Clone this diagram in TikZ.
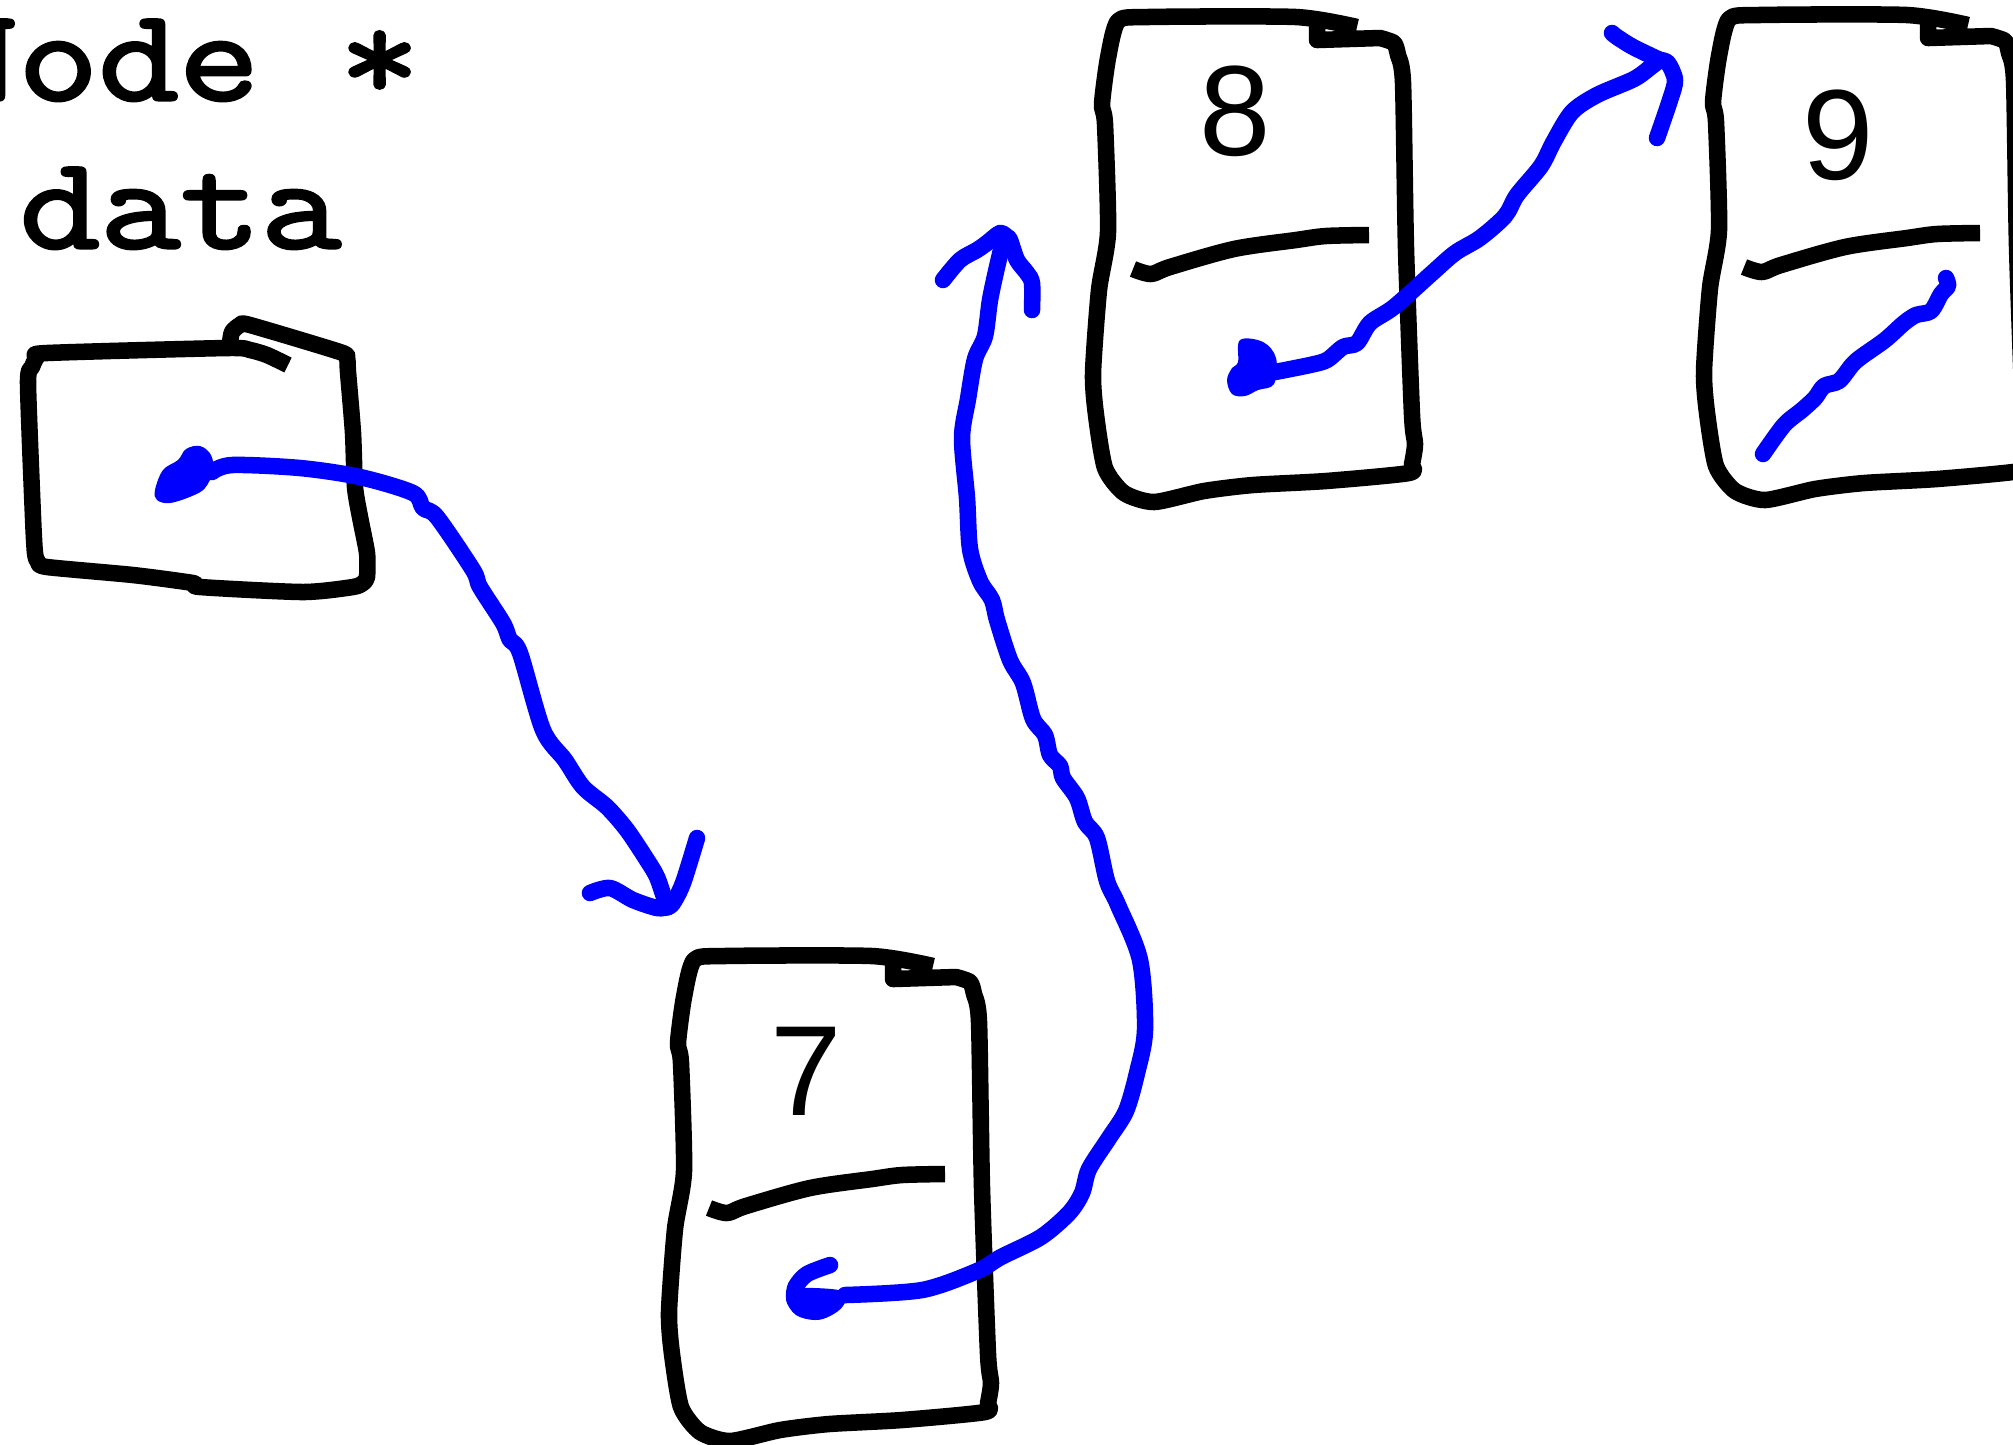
\documentclass[tikz,border=0pt]{standalone}
\usepackage{fontspec}
\newfontfamily\codefont{Latin Modern Mono}[FakeBold=2.5, FakeStretch=1.19]
\newfontfamily\digitfont{Liberation Sans}

\begin{document}
\begin{tikzpicture}[x=0.01cm, y=-0.01cm, line join=round,
  outline/.style={line width=4.7pt, black},
  ptr/.style={line width=4.7pt, blue, line cap=round},
  digit/.style={inner sep=0pt, font=\digitfont\fontsize{36.5}{44}\selectfont},
  code/.style={inner sep=0pt, anchor=base west, font=\codefont\fontsize{37.3}{45}\selectfont}]
  \useasboundingbox (0,0) rectangle (2013,1444);

  % declaration
  \node[code] (decl) at (-63,100) {Node *};
  \node[code] (field) at (19,248) {data};

  % head box
  \draw[outline] plot[smooth, tension=0.4] coordinates {(230,343) (232,332) (240,325) (250,325) (340,352) (347,358) (348,372) (353,433) (355,487) (360,517) (367,553) (367,577) (363,583) (353,587) (303,592) (200,587) (193,583) (133,575) (47,567) (38,562) (35,553) (33,517) (28,383) (32,367) (37,357) (47,353) (227,348) (250,350) (267,355) (288,365)};

  % list nodes
  \foreach \bx/\by/\num/\nx/\ny in {694/960/7/112/111, 1118/21/8/117/90, 1729/19/9/109/116} {
    \begin{scope}[shift={(\bx,\by)}]
      \draw[outline] (199,4) -- (199,19) -- plot[smooth, tension=0.4] coordinates {(262,17) (276,22) (280,34) (285,62) (288,228) (294,394) (297,423) (294,443) (291,452) (208,460) (135,464) (86,470) (36,481) (6,472) (-13,447) (-22,394) (-25,352) (-19,269) (-10,211) (-13,103) (-16,83) (-10,37) (0,0) (30,-4) (178,-4) (239,6)};
      \draw[outline] plot[smooth, tension=0.5] coordinates {(15,248) (33,253) (52,246) (116,228) (178,219) (208,215) (251,214)};
      \node[digit] (n\num) at (\nx,\ny) {\num};
    \end{scope}
  }

  % head -> 7
  \coordinate (head) at (212,472);
  \coordinate (tip7) at (668,907);
  \fill[blue] plot[smooth cycle, tension=0.6] coordinates {(155,490) (163,470) (178,460) (186,449) (200,446) (211,455) (213,471) (205,488) (192,496) (170,503) (157,500)};
  \draw[ptr] plot[smooth, tension=0.5] coordinates {(head) (232,465) (300,468) (360,477) (413,493) (423,508) (437,517) (473,570) (480,587) (503,623) (510,640) (520,653) (543,730) (565,760) (583,787) (607,807) (627,830) (647,860) (657,877) (665,900) (tip7)};
  \draw[ptr] plot[smooth] coordinates {(tip7) (657,908) (633,900) (610,888) (590,893)};
  \draw[ptr] plot[smooth] coordinates {(tip7) (673,903) (683,883) (697,838)};

  % 7 -> 8
  \coordinate (from7) at (845,1295);
  \coordinate (tip8) at (1007,237);
  \fill[blue] plot[smooth cycle, tension=0.6] coordinates {(786,1300) (792,1290) (815,1288) (845,1292) (843,1306) (830,1316) (815,1320) (796,1315)};
  \draw[ptr] plot[smooth] coordinates {(830,1265) (807,1274) (796,1286) (794,1296)};
  \draw[ptr] plot[smooth, tension=0.5] coordinates {(from7) (922,1290) (977,1271) (1001,1257) (1041,1237) (1069,1213) (1082,1193) (1089,1169) (1109,1138) (1126,1111) (1137,1073) (1145,1030) (1140,960) (1118,905) (1107,881) (1097,838) (1085,822) (1077,798) (1063,778) (1060,766) (1050,755) (1045,735) (1033,719) (1023,683) (1010,660) (997,620) (992,600) (980,581) (970,549) (967,498) (962,438) (968,399) (975,359) (985,336) (990,300) (997,267) (1003,243) (tip8)};
  \draw[ptr] plot[smooth] coordinates {(tip8) (1000,233) (987,243) (977,250) (960,260) (943,280)};
  \draw[ptr] plot[smooth] coordinates {(tip8) (1010,240) (1017,260) (1027,273) (1032,283) (1032,310)};

  % 8 -> 9
  \coordinate (from8) at (1275,372);
  \coordinate (tip9) at (1660,60);
  \fill[blue] plot[smooth cycle, tension=0.6] coordinates {(1240,340) (1263,342) (1276,358) (1274,384) (1258,390) (1245,396) (1232,394) (1227,380) (1232,368) (1238,362)};
  \draw[ptr] plot[smooth, tension=0.5] coordinates {(from8) (1310,365) (1327,360) (1343,347) (1357,343) (1370,323) (1394,307) (1431,274) (1455,253) (1480,238) (1505,216) (1517,195) (1541,166) (1554,141) (1572,112) (1597,95) (1634,79) (1652,66) (tip9)};
  \draw[ptr] plot[smooth] coordinates {(tip9) (1633,47) (1617,37) (1612,33)};
  \draw[ptr] plot[smooth] coordinates {(tip9) (1668,63) (1675,80) (1670,100) (1657,138)};

  % 9 next
  \coordinate (null9) at (1763,454);
  \draw[ptr] plot[smooth, tension=0.5] coordinates {(null9) (1784,425) (1802,410) (1815,398) (1824,386) (1839,381) (1852,365) (1861,357) (1885,340) (1904,323) (1916,315) (1931,311) (1941,294) (1948,286) (1946,278)};
\end{tikzpicture}
\end{document}
